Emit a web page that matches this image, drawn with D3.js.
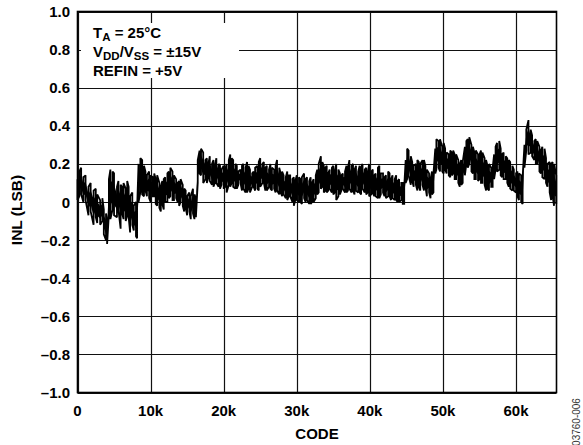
<!DOCTYPE html>
<html><head><meta charset="utf-8">
<script src="https://cdn.jsdelivr.net/npm/d3@7"></script>
<style>
html,body{margin:0;padding:0;background:#fff;}
text{font-family:"Liberation Sans",Arial,sans-serif;}
</style></head>
<body><svg id="chart" width="583" height="445"></svg>
<script>
// ---- data (code in thousands, INL upper/lower extent of the trace in LSB) ----
const codeK = [0.0,0.25,0.5,0.8,1.1,1.5,1.8,2.2,2.5,2.7,3.1,3.4,3.6,3.9,4.05,4.3,4.5,4.8,5.0,5.4,5.6,5.9,6.1,6.3,6.6,6.8,7.0,7.2,7.5,7.7,8.0,8.15,8.35,8.6,8.85,9.1,9.3,9.5,9.8,10.0,10.3,10.5,10.7,10.9,11.2,11.4,11.6,11.8,12.0,12.3,12.5,12.7,13.0,13.2,13.5,13.7,13.9,14.1,14.4,14.6,14.8,15.0,15.3,15.5,15.8,16.0,16.2,16.45,16.7,16.9,17.2,17.5,17.7,17.9,18.1,18.4,18.6,18.8,19.0,19.3,19.5,19.7,20.0,20.2,20.4,20.7,20.9,21.1,21.3,21.6,21.8,22.0,22.3,22.5,22.7,23.0,23.2,23.4,23.6,23.9,24.1,24.3,24.6,24.8,25.0,25.3,25.5,25.7,25.9,26.2,26.4,26.6,26.9,27.1,27.3,27.6,27.8,28.0,28.2,28.5,28.7,28.9,29.1,29.4,29.6,29.8,30.0,30.3,30.5,30.7,31.0,31.2,31.4,31.7,31.9,32.1,32.3,32.6,32.8,33.0,33.3,33.5,33.7,33.9,34.1,34.3,34.5,34.8,35.0,35.2,35.4,35.7,35.9,36.1,36.3,36.6,36.8,37.0,37.2,37.5,37.7,37.9,38.1,38.4,38.6,38.8,39.0,39.3,39.5,39.7,39.9,40.2,40.4,40.6,40.8,41.1,41.3,41.5,41.8,42.0,42.2,42.5,42.7,42.9,43.1,43.4,43.6,43.8,44.0,44.3,44.5,44.7,44.9,45.1,45.3,45.6,45.8,46.0,46.3,46.5,46.7,46.9,47.2,47.4,47.6,47.8,48.1,48.3,48.5,48.7,48.95,49.1,49.4,49.6,49.9,50.1,50.3,50.5,50.8,51.0,51.2,51.4,51.6,51.8,52.1,52.3,52.5,52.7,53.0,53.2,53.4,53.6,53.9,54.1,54.3,54.5,54.8,55.0,55.2,55.4,55.7,55.9,56.1,56.3,56.6,56.8,57.0,57.2,57.4,57.7,57.9,58.1,58.3,58.6,58.8,59.0,59.2,59.5,59.7,60.0,60.2,60.4,60.7,60.9,61.15,61.4,61.7,62.0,62.2,62.5,62.7,62.9,63.2,63.4,63.6,63.9,64.1,64.3,64.6,64.8,65.0,65.2,65.5];
const inlHigh = [0.12,0.16,0.18,0.13,0.14,0.08,0.10,0.06,0.07,0.04,0.01,0.02,-0.04,-0.06,-0.09,0.12,0.17,0.16,0.15,0.08,0.11,0.09,0.08,0.10,0.07,0.11,0.08,0.03,0.05,-0.02,0.00,-0.04,0.20,0.23,0.22,0.19,0.16,0.14,0.16,0.14,0.13,0.15,0.12,0.14,0.10,0.08,0.11,0.12,0.13,0.15,0.16,0.18,0.16,0.14,0.12,0.10,0.11,0.12,0.09,0.07,0.06,0.03,0.05,0.03,0.07,0.04,0.02,0.22,0.27,0.28,0.26,0.22,0.23,0.20,0.24,0.20,0.22,0.19,0.23,0.20,0.19,0.17,0.19,0.17,0.20,0.22,0.25,0.23,0.22,0.20,0.19,0.16,0.17,0.19,0.20,0.18,0.21,0.19,0.17,0.15,0.16,0.18,0.19,0.21,0.23,0.20,0.21,0.18,0.19,0.17,0.20,0.18,0.17,0.19,0.22,0.18,0.15,0.16,0.14,0.13,0.16,0.14,0.14,0.12,0.13,0.11,0.14,0.13,0.12,0.13,0.15,0.12,0.13,0.11,0.13,0.10,0.12,0.14,0.17,0.20,0.24,0.21,0.19,0.18,0.19,0.15,0.17,0.18,0.19,0.16,0.20,0.17,0.15,0.14,0.15,0.16,0.19,0.18,0.22,0.19,0.20,0.17,0.19,0.16,0.19,0.18,0.20,0.17,0.18,0.15,0.20,0.16,0.17,0.14,0.15,0.18,0.19,0.15,0.15,0.13,0.14,0.16,0.15,0.12,0.14,0.12,0.14,0.11,0.12,0.10,0.10,0.08,0.22,0.28,0.27,0.24,0.21,0.19,0.20,0.22,0.21,0.20,0.22,0.22,0.19,0.17,0.15,0.12,0.16,0.15,0.28,0.33,0.32,0.33,0.29,0.31,0.28,0.26,0.25,0.27,0.26,0.27,0.25,0.25,0.22,0.20,0.22,0.21,0.29,0.32,0.33,0.34,0.30,0.29,0.26,0.27,0.25,0.25,0.27,0.26,0.23,0.22,0.19,0.20,0.18,0.18,0.25,0.29,0.31,0.32,0.28,0.25,0.26,0.24,0.23,0.22,0.21,0.19,0.17,0.15,0.16,0.15,0.14,0.13,0.30,0.38,0.43,0.38,0.35,0.32,0.33,0.32,0.29,0.27,0.29,0.28,0.23,0.20,0.21,0.20,0.21,0.20,0.14];
const inlLow = [0.01,0.03,0.04,0.00,0.01,-0.07,-0.05,-0.12,-0.08,-0.11,-0.12,-0.10,-0.17,-0.20,-0.22,-0.06,-0.09,-0.04,-0.07,-0.08,-0.04,-0.14,-0.06,-0.09,-0.10,-0.07,-0.08,-0.16,-0.12,-0.15,-0.18,-0.19,0.00,0.05,0.04,0.03,0.06,0.03,0.02,0.00,0.03,0.03,-0.01,-0.02,-0.03,-0.05,-0.01,-0.04,0.00,0.00,0.02,0.03,0.01,0.01,0.02,0.00,-0.02,0.00,-0.02,-0.05,-0.03,-0.07,-0.05,-0.09,-0.06,-0.09,-0.08,0.10,0.15,0.14,0.10,0.12,0.10,0.13,0.11,0.09,0.08,0.10,0.10,0.08,0.07,0.09,0.07,0.08,0.05,0.09,0.08,0.10,0.08,0.07,0.07,0.09,0.10,0.06,0.07,0.05,0.05,0.07,0.05,0.08,0.08,0.06,0.07,0.06,0.08,0.10,0.10,0.06,0.06,0.08,0.07,0.06,0.07,0.05,0.06,0.04,0.05,0.03,0.04,0.02,0.01,0.03,0.03,0.00,-0.02,0.01,0.01,0.00,0.00,-0.01,0.02,0.00,0.01,-0.01,-0.01,0.00,0.00,0.02,0.04,0.05,0.07,0.08,0.05,0.06,0.05,0.06,0.07,0.05,0.04,0.05,0.01,0.03,0.04,0.06,0.07,0.05,0.05,0.06,0.07,0.05,0.06,0.04,0.06,0.05,0.05,0.04,0.07,0.05,0.04,0.05,0.03,0.04,0.05,0.03,0.03,0.02,0.02,0.04,0.05,0.03,0.02,0.03,0.03,0.01,0.02,0.01,0.01,0.00,0.00,0.01,-0.01,-0.01,0.10,0.12,0.14,0.09,0.11,0.08,0.09,0.06,0.08,0.06,0.09,0.06,0.08,0.03,0.05,0.02,0.04,0.05,0.15,0.17,0.18,0.16,0.16,0.15,0.17,0.15,0.14,0.13,0.14,0.15,0.12,0.12,0.10,0.08,0.09,0.10,0.14,0.20,0.18,0.20,0.16,0.15,0.12,0.12,0.11,0.12,0.10,0.10,0.09,0.06,0.07,0.06,0.08,0.08,0.12,0.17,0.16,0.17,0.14,0.13,0.12,0.12,0.10,0.08,0.07,0.06,0.06,0.05,0.03,0.01,0.00,-0.01,0.18,0.27,0.25,0.26,0.24,0.22,0.20,0.20,0.16,0.15,0.13,0.12,0.10,0.08,0.05,0.01,0.03,-0.02,-0.01];
const yTicks = [1.0,0.8,0.6,0.4,0.2,0,-0.2,-0.4,-0.6,-0.8,-1.0];
const xTicks = [0,10000,20000,30000,40000,50000,60000];
const xTickLabels = ["0","10k","20k","30k","40k","50k","60k"];
const notes = ["T_A = 25°C","V_DD/V_SS = ±15V","REFIN = +5V"];

const svg = d3.select("#chart");
const L = 77.5, R = 556.5, T = 11.5, B = 392.5;
const x = d3.scaleLinear().domain([0,65535]).range([L,R]);
const y = d3.scaleLinear().domain([-1,1]).range([B,T]);
const fmtY = v => v===0 ? "0" : (v<0 ? "\u2013" : "") + Math.abs(v).toFixed(1);
const FS = 15;

// grid
const g = svg.append("g");
g.selectAll(".hg").data(yTicks).join("line")
  .attr("x1",L).attr("x2",R).attr("y1",d=>Math.round(y(d))+0.5).attr("y2",d=>Math.round(y(d))+0.5)
  .attr("stroke","#111").attr("stroke-width",1.2);
g.selectAll(".vg").data(xTicks).join("line")
  .attr("y1",T).attr("y2",B).attr("x1",d=>Math.round(x(d))+0.5).attr("x2",d=>Math.round(x(d))+0.5)
  .attr("stroke","#111").attr("stroke-width",1.2);

// trace: vertical strokes from high to low at each reading, alternating
let pts = [];
codeK.forEach((c,i)=>{
  const cx = x(c*1000);
  if (i%2===0){ pts.push([cx,y(inlHigh[i])]); pts.push([cx,y(inlLow[i])]); }
  else { pts.push([cx,y(inlLow[i])]); pts.push([cx,y(inlHigh[i])]); }
});
svg.append("path").attr("d",d3.line()(pts)).attr("fill","none")
  .attr("stroke","#000").attr("stroke-width",1.8).attr("stroke-linejoin","miter").attr("stroke-miterlimit",2);
// fill the core of the band
const area = d3.area().x(d=>x(d*1000))
  .y0((d,i)=>y(inlLow[i]+(inlHigh[i]-inlLow[i])*0.25))
  .y1((d,i)=>y(inlHigh[i]-(inlHigh[i]-inlLow[i])*0.25));
svg.append("path").attr("d",area(codeK)).attr("fill","#000");

// border
svg.append("rect").attr("x",L).attr("y",T).attr("width",R-L).attr("height",B-T)
  .attr("fill","none").attr("stroke","#000").attr("stroke-width",1.6);

// note box
svg.append("rect").attr("x",81).attr("y",23).attr("width",158).attr("height",55).attr("fill","#fff");
const nt = svg.append("g").attr("font-size",FS).attr("font-weight","bold").attr("fill","#000");
const t1 = nt.append("text").attr("x",93).attr("y",37.5);
t1.append("tspan").text("T");
t1.append("tspan").attr("font-size",11.5).attr("dy",3.5).text("A");
t1.append("tspan").attr("dy",-3.5).text(" = 25°C");
const t2 = nt.append("text").attr("x",93).attr("y",56.5);
t2.append("tspan").text("V");
t2.append("tspan").attr("font-size",11.5).attr("dy",3.5).text("DD");
t2.append("tspan").attr("dy",-3.5).text("/V");
t2.append("tspan").attr("font-size",11.5).attr("dy",3.5).text("SS");
t2.append("tspan").attr("dy",-3.5).text(" = ±15V");
nt.append("text").attr("x",93).attr("y",75.5).text(notes[2]);

// tick labels
svg.append("g").selectAll("text").data(yTicks).join("text")
  .attr("x",70).attr("y",d=>y(d)+5.5).attr("text-anchor","end")
  .attr("font-size",FS).attr("font-weight","bold").text(fmtY);
svg.append("g").selectAll("text").data(xTicks).join("text")
  .attr("x",d=>x(d)).attr("y",415.5).attr("text-anchor","middle")
  .attr("font-size",FS).attr("font-weight","bold").text((d,i)=>xTickLabels[i]);

// titles
svg.append("text").attr("x",(L+R)/2).attr("y",438.5).attr("text-anchor","middle")
  .attr("font-size",FS).attr("font-weight","bold").text("CODE");
svg.append("text").attr("transform","translate(22,210) rotate(-90)").attr("text-anchor","middle")
  .attr("font-size",15.5).attr("font-weight","bold").text("INL (LSB)");
svg.append("text").attr("transform","translate(579.5,422) rotate(-90)").attr("text-anchor","middle")
  .attr("font-size",10).attr("fill","#333").text("03760-006");
</script></body></html>
